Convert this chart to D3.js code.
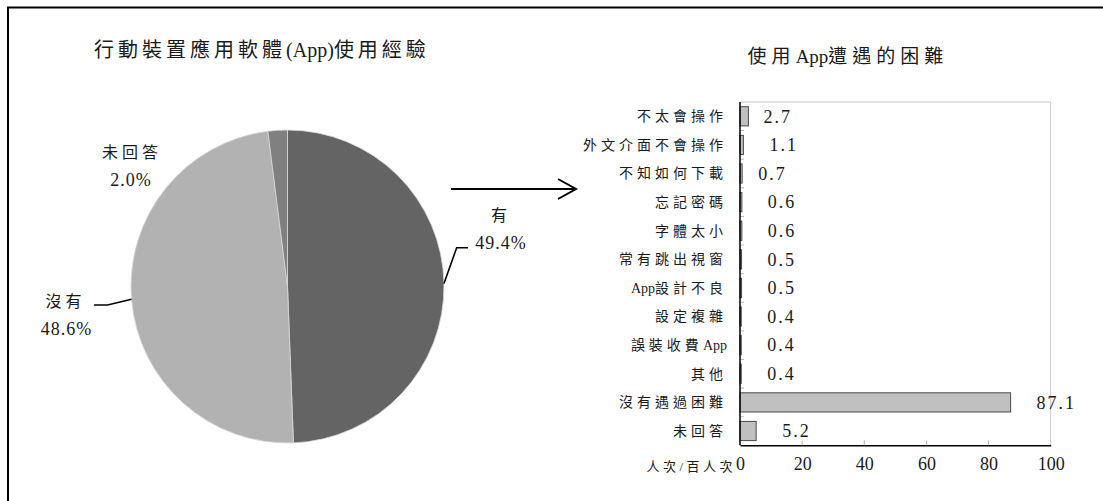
<!DOCTYPE html>
<html>
<head>
<meta charset="utf-8">
<script src="https://cdn.jsdelivr.net/npm/d3@7/dist/d3.min.js"></script>
<style>
  html, body { margin: 0; padding: 0; background: #fff; }
  svg { display: block; }
  text { font-family: "Liberation Serif", "Times New Roman", "DejaVu Serif", "Noto Sans CJK TC", serif; fill: #1a1a1a; }
</style>
</head>
<body>
<svg id="chart" width="1103" height="501"></svg>
<script>
// ---- Pie: experience with mobile apps (%) ----
const pieLabels = ["有", "沒有", "未回答"];
const pieValues = [49.4, 48.6, 2.0];

// ---- Bars: difficulties met when using apps (persons per 100 persons) ----
const barCategories = ["不太會操作", "外文介面不會操作", "不知如何下載", "忘記密碼", "字體太小",
  "常有跳出視窗", "App設計不良", "設定複雜", "誤裝收費App", "其他", "沒有遇過困難", "未回答"];
const barValues = [2.7, 1.1, 0.7, 0.6, 0.6, 0.5, 0.5, 0.4, 0.4, 0.4, 87.1, 5.2];
const xTicks = [0, 20, 40, 60, 80, 100];

const pieTitle = "行動裝置應用軟體(App)使用經驗";
const barTitle = "使用App遭遇的困難";
const unitLabel = "人次/百人次";

const svg = d3.select("#chart");
const W = 1103, H = 501;

// Writes mixed CJK / Latin text: CJK runs get wide tracking, Latin runs stay tight.
const cjkRe = /[\u3000-\u9fff\uff00-\uffef\/]/;
function mixedText(sel, str, cjkSpacing, latinSpacing) {
  sel.text(null);
  const runs = [];
  for (const ch of str) {
    const isCjk = cjkRe.test(ch);
    if (runs.length && runs[runs.length - 1].cjk === isCjk) runs[runs.length - 1].s += ch;
    else runs.push({ cjk: isCjk, s: ch });
  }
  runs.forEach(r => {
    sel.append("tspan")
      .style("letter-spacing", (r.cjk ? cjkSpacing : latinSpacing) + "px")
      .text(r.s);
  });
  return sel;
}

// outer frame (top and left edges visible)
svg.append("path")
  .attr("d", `M8,${H} V7.5 H${W}`)
  .attr("fill", "none").attr("stroke", "#000").attr("stroke-width", 2);

// ================= Pie =================
const cx = 287.5, cy = 286.5, R = 156.5;
const pieColors = d3.scaleOrdinal().domain(pieLabels).range(["#646464", "#b2b2b2", "#808080"]);
const pie = d3.pie().sort(null).value(d => d.value);
const arcs = pie(pieLabels.map((l, i) => ({ label: l, value: pieValues[i] })));
const arc = d3.arc().innerRadius(0).outerRadius(R);

const pg = svg.append("g").attr("transform", `translate(${cx},${cy})`);
pg.selectAll("path.slice").data(arcs).join("path")
  .attr("class", "slice")
  .attr("d", arc)
  .attr("fill", d => pieColors(d.data.label))
  .attr("stroke", "#d8d8d8").attr("stroke-width", 0.8);

svg.append("text")
  .attr("x", 262).attr("y", 57)
  .attr("text-anchor", "middle")
  .style("font-size", "20px")
  .call(mixedText, pieTitle, 4, 0);

// label placement for each slice: leader elbow + text anchor (relative to edge point)
const pieLabelLayout = {
  "有":   { leader: true,  elbow: [12.7, -35.8], end: [24, -35.8], name: [57, -68], pct: [57, -41] },
  "沒有": { leader: true,  elbow: [-24, 5.7],    end: [-37.5, 5.7], name: [-66, 2], pct: [-65, 29] },
  "未回答": { leader: false, name: [132, 152], pct: [131, 180] }
};
const fmtPct = v => v.toFixed(1) + "%";

arcs.forEach(a => {
  const lay = pieLabelLayout[a.data.label];
  const mid = (a.startAngle + a.endAngle) / 2;
  const ex = cx + R * Math.sin(mid), ey = cy - R * Math.cos(mid);
  let nx, ny, px, py;
  if (lay.leader) {
    svg.append("polyline")
      .attr("points", [[ex, ey], [ex + lay.elbow[0], ey + lay.elbow[1]], [ex + lay.end[0], ey + lay.end[1]]].map(p => p.join(",")).join(" "))
      .attr("fill", "none").attr("stroke", "#000").attr("stroke-width", 1.6);
    nx = ex + lay.name[0]; ny = ey + lay.name[1];
    px = ex + lay.pct[0]; py = ey + lay.pct[1];
  } else {
    nx = lay.name[0]; ny = lay.name[1];
    px = lay.pct[0]; py = lay.pct[1];
  }
  svg.append("text").attr("x", nx).attr("y", ny).attr("dy", "0.35em")
    .attr("text-anchor", "middle")
    .style("font-size", "16px").style("letter-spacing", "4px")
    .text(a.data.label);
  svg.append("text").attr("x", px).attr("y", py).attr("dy", "0.35em")
    .attr("text-anchor", "middle")
    .style("font-size", "18px").style("letter-spacing", "1px")
    .text(fmtPct(a.data.value));
});

// connector arrow from pie to bar chart
const ay = 189;
svg.append("line").attr("x1", 451).attr("y1", ay).attr("x2", 575).attr("y2", ay)
  .attr("stroke", "#000").attr("stroke-width", 2);
svg.append("polyline")
  .attr("points", `558,${ay - 10} 576,${ay} 558,${ay + 10}`)
  .attr("fill", "none").attr("stroke", "#000").attr("stroke-width", 2);

// ================= Bars =================
const plot = { left: 740, right: 1050.7, top: 102, bottom: 445.3 };
const x = d3.scaleLinear().domain([0, 100]).range([plot.left, plot.right]);
const y = d3.scaleBand().domain(barCategories).range([plot.top, plot.bottom]).paddingInner(0.33).paddingOuter(0.165);
const yStep = d3.scaleBand().domain(barCategories).range([plot.top, plot.bottom]);

svg.append("text")
  .attr("x", 848).attr("y", 63)
  .attr("text-anchor", "middle")
  .style("font-size", "19px")
  .call(mixedText, barTitle, 5, 0);

// plot frame: light top/right
svg.append("path")
  .attr("d", `M${plot.left},${plot.top} H${plot.right} V${plot.bottom}`)
  .attr("fill", "none").attr("stroke", "#c8c8c8").attr("stroke-width", 1);

const bars = barCategories.map((c, i) => ({ cat: c, value: barValues[i] }));
svg.append("g").selectAll("rect").data(bars).join("rect")
  .attr("x", x(0))
  .attr("y", d => y(d.cat))
  .attr("width", d => x(d.value) - x(0))
  .attr("height", y.bandwidth())
  .attr("fill", "#c0c0c0")
  .attr("stroke", "#4a4a4a").attr("stroke-width", 1);

// value labels
const labelNudge = { "不太會操作": -11, "不知如何下載": -10 };
svg.append("g").selectAll("text").data(bars).join("text")
  .attr("x", d => x(d.value) + 26 + (labelNudge[d.cat] || 0))
  .attr("y", d => y(d.cat) + y.bandwidth() / 2)
  .attr("dy", "0.35em")
  .style("font-size", "18px").style("letter-spacing", "2px")
  .text(d => d.value.toFixed(1));

// y axis (category labels), inner gray ticks at category boundaries
const yAxis = svg.append("g").attr("transform", `translate(${plot.left},0)`);
yAxis.selectAll("line.tk").data(barCategories.slice(1)).join("line")
  .attr("class", "tk")
  .attr("x1", 0).attr("x2", 4)
  .attr("y1", d => yStep(d)).attr("y2", d => yStep(d))
  .attr("stroke", "#b8b8b8").attr("stroke-width", 1);
yAxis.append("line").attr("x1", 0).attr("x2", 0).attr("y1", plot.top).attr("y2", plot.bottom)
  .attr("stroke", "#000").attr("stroke-width", 1.5);
yAxis.selectAll("text").data(barCategories).join("text")
  .attr("x", -13)
  .attr("y", d => yStep(d) + yStep.bandwidth() / 2)
  .attr("dy", "0.35em")
  .attr("text-anchor", "end")
  .style("font-size", "14px")
  .each(function (d) { mixedText(d3.select(this), d, 4, 0); });

// x axis
const xAxis = svg.append("g").attr("transform", `translate(0,${plot.bottom})`)
  .call(d3.axisBottom(x).tickValues(xTicks).tickSize(0).tickPadding(12).tickFormat(d3.format("d")));
xAxis.attr("font-family", null).attr("font-size", null);
xAxis.select(".domain").attr("stroke", "#000").attr("stroke-width", 1.5);
xAxis.selectAll(".tick text")
  .style("font-size", "18px").attr("fill", "#1a1a1a");
xAxis.selectAll("line.inner").data(xTicks.slice(1, -1)).join("line")
  .attr("class", "inner")
  .attr("x1", d => x(d)).attr("x2", d => x(d))
  .attr("y1", 0).attr("y2", -5)
  .attr("stroke", "#b8b8b8").attr("stroke-width", 1);

svg.append("text")
  .attr("x", 736).attr("y", plot.bottom + 21)
  .attr("dy", "0.35em")
  .attr("text-anchor", "end")
  .style("font-size", "13px").style("letter-spacing", "3.5px")
  .text(unitLabel);
</script>
</body>
</html>
